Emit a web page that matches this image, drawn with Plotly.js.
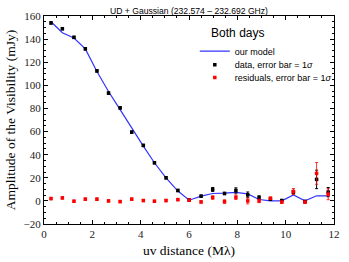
<!DOCTYPE html>
<html>
<head>
<meta charset="utf-8">
<script src="https://cdn.plot.ly/plotly-3.0.1.min.js"></script>
<style>html,body{margin:0;padding:0;background:#fff;}#chart{width:349px;height:262px;}</style>
</head>
<body>
<div id="chart"></div>
<script>
// uv distance (Mλ)
var uvDist = [0.29, 0.76, 1.24, 1.71, 2.19, 2.67, 3.15, 3.63, 4.11, 4.57, 5.05, 5.54, 6.01, 6.50, 6.98, 7.47, 7.94, 8.43, 8.90, 9.37, 9.84, 10.32, 10.80, 11.28, 11.76];
// model amplitude (mJy)
var modelAmp = [155, 145.5, 141, 131.5, 112, 94.7, 79, 63, 47.4, 33, 20, 8.5, 0.6, 4.1, 6.4, 6.7, 7.3, 6.1, 1.2, 0, 0, 5.2, 0, 4.4, 4.4];
// observed amplitude (mJy) and 1σ errors
var dataAmp = [154, 149, 141.5, 131.6, 112.5, 93.3, 80.5, 59.5, 48, 33, 20, 9, 0.8, 4.1, 9.9, 6.4, 9.0, 5.2, 2.9, 1.5, 0.3, 7.6, -0.5, 18.6, 7.6];
var dataErr = [1, 1, 1, 1, 1, 1, 1, 1, 1, 1, 1, 1, 1, 1, 1.7, 1, 2.3, 2.5, 1.5, 1, 1, 1.5, 1, 8, 4];
// residuals (mJy) and 1σ errors
var residAmp = [2.0, 2.6, -0.3, 1.5, 1.5, 0, -0.6, 1.5, 0.3, -0.3, 0.3, 1.1, 0.6, -0.9, 2.9, -0.6, 3.2, 0, 0, 2.3, -1.1, 8.1, -1.1, 23.8, 5.8];
var residErr = [1, 1, 1, 1, 1, 1, 1, 1, 1, 1, 1, 1, 1, 1, 1.5, 1.5, 2, 2.6, 1.5, 1, 1, 2.6, 1, 9.4, 4.8];

var serif = 'Liberation Serif, Times New Roman, serif';
var sans = 'Liberation Sans, Arial, sans-serif';

var traces = [
  {x: uvDist, y: modelAmp, type: 'scatter', mode: 'lines', name: 'our model', legend: 'legend',
   line: {color: 'rgb(50,50,255)', width: 1.2}},
  {x: uvDist, y: dataAmp, type: 'scatter', mode: 'markers', name: 'data, error bar = 1<i>σ</i>', legend: 'legend2',
   marker: {color: 'black', size: 3.5, symbol: 'square'},
   error_y: {type: 'data', array: dataErr, visible: true, color: 'black', thickness: 1, width: 1.5}},
  {x: uvDist, y: residAmp, type: 'scatter', mode: 'markers', name: 'residuals, error bar = 1<i>σ</i>', legend: 'legend3',
   marker: {color: 'red', size: 3.5, symbol: 'square'},
   error_y: {type: 'data', array: residErr, visible: true, color: 'rgba(255,0,0,0.8)', thickness: 1, width: 1.5}}
];

var axisCommon = {
  showgrid: false, zeroline: false, showline: true, linecolor: 'black', linewidth: 1,
  mirror: 'allticks', ticks: 'inside', ticklen: 4, tickcolor: 'black', tickwidth: 1,
  tickfont: {family: serif, size: 11, color: '#222'}
};

var legendCommon = {
  x: 0.52, xanchor: 'left', yanchor: 'top',
  bgcolor: 'rgba(0,0,0,0)', borderwidth: 0,
  font: {family: sans, size: 9, color: 'black'}
};

var layout = {
  width: 349, height: 262,
  margin: {l: 44, r: 13, t: 16, b: 38},
  paper_bgcolor: 'white', plot_bgcolor: 'white',
  showlegend: true,
  title: {text: 'UD + Gaussian (232.574 – 232.692 GHz)', font: {family: sans, size: 8.6, color: 'black'},
          xref: 'paper', x: 0.5, xanchor: 'center', yref: 'container', y: 1 - 11/262, yanchor: 'middle'},
  xaxis: Object.assign({}, axisCommon, {
    range: [0, 12], dtick: 2, tick0: 0,
    minor: {dtick: 0.5, ticklen: 2, ticks: 'inside', tickcolor: 'black'},
    title: {text: 'uv distance (Mλ)', font: {family: serif, size: 13.5, color: 'black'}, standoff: 6}
  }),
  yaxis: Object.assign({}, axisCommon, {
    range: [-20, 160], dtick: 20, tick0: 0,
    minor: {dtick: 5, ticklen: 2, ticks: 'inside', tickcolor: 'black'},
    title: {text: 'Amplitude of the Visibility (mJy)', font: {family: serif, size: 13.5, color: 'black'}, standoff: 4}
  }),
  legend: Object.assign({}, legendCommon, {
    y: 0.976,
    title: {text: 'Both days', side: 'top center', font: {family: sans, size: 12, color: 'black'}}
  }),
  legend2: Object.assign({}, legendCommon, {y: 0.835}),
  legend3: Object.assign({}, legendCommon, {y: 0.774})
};

Plotly.newPlot('chart', traces, layout, {staticPlot: true, displayModeBar: false});
</script>
</body>
</html>
